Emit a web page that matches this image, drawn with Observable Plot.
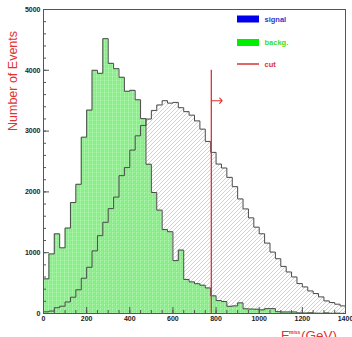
<!DOCTYPE html>
<html><head><meta charset="utf-8">
<script src="https://cdn.jsdelivr.net/npm/d3@7"></script>
<script src="https://cdn.jsdelivr.net/npm/@observablehq/plot@0.6"></script>
<style>
html,body{margin:0;padding:0;background:#fff;overflow:hidden}
#chart{position:relative;width:352px;height:337px;overflow:hidden}
</style></head><body><div id="chart"></div>
<script>
// Histogram binning (GeV)
const binWidth = 25;
const xMin = 0, xMax = 1400;
const yMin = 0, yMax = 5000;

// Signal counts per 25 GeV bin (0..1400)
const signal = [27, 40, 95, 120, 190, 268, 390, 580, 760, 1030,
  1280, 1500, 1725, 1915, 2267, 2400, 2688, 2922, 3093, 3198,
  3340, 3430, 3500, 3460, 3472, 3385, 3320, 3262, 3168, 3032,
  2830, 2650, 2458, 2393, 2239, 2086, 1884, 1720, 1573, 1420,
  1311, 1158, 1010, 901, 775, 683, 601, 492, 437, 371,
  328, 273, 207, 180, 153, 125];

// Background counts per 25 GeV bin (0..1400)
const background = [570, 980, 1310, 1080, 1405, 1825, 2125, 2900, 3345, 4000,
  3950, 4520, 4114, 4027, 3885, 3655, 3670, 3515, 3205, 2455,
  1990, 1700, 1380, 1345, 870, 1043, 560, 520, 490, 465,
  420, 290, 213, 197, 118, 125, 175, 77, 73, 70,
  60, 80, 80, 30, 25, 25, 25, 10, 8, 12,
  5, 3, 10, 3, 5, 2];

// Cut
const cutValue = 778;
const cutTop = 4000;
const arrowY = 3500;
const arrowLength = 50;

// Ticks
const xTicks = [0, 200, 400, 600, 800, 1000, 1200, 1400];
const yTicks = [0, 1000, 2000, 3000, 4000, 5000];
const xMinorStep = 50;
const yMinorStep = 200;

// Texts
const legendLabels = ["signal", "backg.", "cut"];
const legendColors = ["#0000ee", "#00ee00", "#cc0000"];
const legendTextColors = ["#3333cc", "#33dd33", "#dd3333"];
const yTitle = "Number of Events";
const xTitleMain = "E", xTitleSup = "miss", xTitleSub = "T", xTitleUnit = "(GeV)";

const W = 352, H = 337;
const mL = 43, mR = 7, mT = 9, mB = 24;
const frameW = W - mL - mR, frameH = H - mT - mB;

function stepPoints(values) {
  const pts = values.map((v, i) => ({x: xMin + i * binWidth, v}));
  pts.push({x: xMin + values.length * binWidth, v: values[values.length - 1]});
  return pts;
}
function outlinePoints(values) {
  return [{x: xMin, v: 0}, ...stepPoints(values)];
}

const xMinor = d3.range(xMin, xMax + 1, xMinorStep);
const yMinor = d3.range(yMin, yMax + 1, yMinorStep);

const font = "'Liberation Sans', Arial, Helvetica, sans-serif";
const red = "#e33232";
const outline = "#4a4a4a";

const plot = Plot.plot({
  width: W, height: H,
  marginLeft: mL, marginRight: mR, marginTop: mT, marginBottom: mB,
  x: {domain: [xMin, xMax]},
  y: {domain: [yMin, yMax]},
  style: {background: "white", fontFamily: font},
  marks: [
    Plot.areaY(stepPoints(background), {x: "x", y: "v", curve: "step-after", fill: "url(#bgPat)"}),
    Plot.areaY(stepPoints(signal), {x: "x", y: "v", curve: "step-after", fill: "url(#sigPat)"}),
    Plot.lineY(outlinePoints(background), {x: "x", y: "v", curve: "step-after", stroke: outline, strokeWidth: 1}),
    Plot.lineY(outlinePoints(signal), {x: "x", y: "v", curve: "step-after", stroke: outline, strokeWidth: 1}),
    Plot.frame({stroke: "#555", strokeWidth: 1}),
    Plot.tickY(yMinor, {y: d => d, insetRight: frameW - 3, stroke: "#555"}),
    Plot.tickY(yTicks, {y: d => d, insetRight: frameW - 6, stroke: "#555"}),
    Plot.tickX(xMinor, {x: d => d, insetTop: frameH - 3, stroke: "#555"}),
    Plot.tickX(xTicks, {x: d => d, insetTop: frameH - 6, stroke: "#555"}),
    Plot.axisY(yTicks, {tickSize: 0, tickPadding: 3, tickFormat: d3.format("d"), label: null,
      fontSize: 7, fontWeight: "bold", fill: "#222"}),
    Plot.axisX(xTicks, {tickSize: 0, tickPadding: 3, tickFormat: d3.format("d"), label: null,
      fontSize: 7, fontWeight: "bold", fill: "#222"}),
    Plot.ruleX([cutValue], {x: d => d, y1: yMin, y2: cutTop, stroke: red, strokeWidth: 1.3}),
    Plot.arrow([{x1: cutValue, x2: cutValue + arrowLength, y: arrowY}],
      {x1: "x1", x2: "x2", y1: "y", y2: "y", stroke: red, strokeWidth: 1.1, headLength: 7.5, headAngle: 95, bend: 0})
  ]
});

const svg = d3.select(plot);
const defs = svg.insert("defs", ":first-child");
const bg = defs.append("pattern").attr("id", "bgPat").attr("patternUnits", "userSpaceOnUse")
  .attr("width", 4).attr("height", 4);
bg.append("rect").attr("width", 4).attr("height", 4).attr("fill", "#80f080");
bg.append("rect").attr("x", 0).attr("y", 0).attr("width", 1).attr("height", 4).attr("fill", "#fff").attr("opacity", 0.28);
bg.append("rect").attr("x", 2).attr("y", 0).attr("width", 1).attr("height", 4).attr("fill", "#fff").attr("opacity", 0.12);
bg.append("rect").attr("x", 0).attr("y", 0).attr("width", 4).attr("height", 1).attr("fill", "#fff").attr("opacity", 0.12);

const sp = defs.append("pattern").attr("id", "sigPat").attr("patternUnits", "userSpaceOnUse")
  .attr("width", 4).attr("height", 4);
sp.append("path").attr("d", "M0,4 L4,0 M-1,1 L1,-1 M3,5 L5,3")
  .attr("stroke", "#b9b9e6").attr("stroke-width", 0.7).attr("fill", "none");

// Legend
const lg = svg.append("g").attr("font-family", font).attr("font-weight", "bold").attr("font-size", 7.5)
  .attr("text-anchor", "start");
const legendY = [19, 42.5, 64];
legendLabels.forEach((lab, i) => {
  if (i < 2) {
    lg.append("rect").attr("x", 237).attr("y", legendY[i] - 3.5).attr("width", 22).attr("height", 7).attr("fill", legendColors[i]);
  } else {
    lg.append("line").attr("x1", 237).attr("x2", 259).attr("y1", legendY[i]).attr("y2", legendY[i])
      .attr("stroke", legendColors[i]).attr("stroke-width", 1.2);
  }
  lg.append("text").attr("x", 264.5).attr("y", legendY[i]).attr("dy", "0.35em").attr("text-anchor", "start")
    .attr("fill", legendTextColors[i]).text(lab);
});

// Y title
svg.append("text").attr("transform", "translate(17,81) rotate(-90)").attr("text-anchor", "middle")
  .attr("font-family", font).attr("font-size", 12.5).attr("fill", red).text(yTitle);

// X title (E_T^miss (GeV)), partly below the bottom edge as in the reference
const xg = svg.append("g").attr("font-family", font).attr("fill", red).attr("text-anchor", "start");
xg.append("text").attr("x", 281).attr("y", 340).attr("font-size", 13).text(xTitleMain);
xg.append("text").attr("x", 289).attr("y", 333.5).attr("font-size", 5).attr("font-weight", "bold").text(xTitleSup);
xg.append("text").attr("x", 289).attr("y", 343).attr("font-size", 5).attr("font-weight", "bold").text(xTitleSub);
xg.append("text").attr("x", 301).attr("y", 340).attr("font-size", 13.5).text(xTitleUnit);

document.getElementById("chart").appendChild(plot);
</script></body></html>
